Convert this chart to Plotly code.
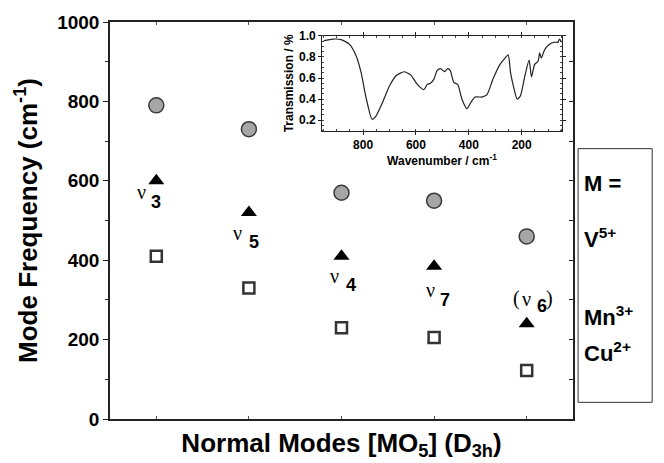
import plotly.graph_objects as go

# ---- main chart data ----
modes = [1, 2, 3, 4, 5]
mode_names = ["ν3", "ν5", "ν4", "ν7", "(ν6)"]
v5_freq = [790, 730, 570, 550, 460]      # grey circles
mn3_freq = [600, 520, 410, 385, 240]     # black triangles
cu2_freq = [410, 330, 230, 205, 122]     # open squares

# ---- inset spectrum data ----
wavenumber = [949, 914, 883, 851, 826, 807, 789, 766, 751, 726, 701, 676, 645, 620,
              595, 570, 557, 545, 532, 520, 507, 492, 480, 470, 457, 442, 426, 407,
              392, 376, 351, 332, 307, 282, 263, 251, 242, 230, 217, 205, 188, 172,
              163, 151, 138, 132, 126, 113, 95, 76, 63, 57, 49]
transmission = [0.955, 0.97, 0.965, 0.92, 0.81, 0.65, 0.42, 0.21, 0.24, 0.37, 0.52,
                0.62, 0.66, 0.63, 0.54, 0.49, 0.54, 0.55, 0.59, 0.67, 0.69, 0.66,
                0.69, 0.67, 0.56, 0.54, 0.40, 0.31, 0.37, 0.42, 0.42, 0.44, 0.60,
                0.73, 0.79, 0.82, 0.65, 0.51, 0.40, 0.43, 0.62, 0.77, 0.61, 0.73,
                0.76, 0.84, 0.79, 0.87, 0.92, 0.94, 0.94, 0.97, 0.94]

legend_lines = ["M =", "V<sup>5+</sup>", "Mn<sup>3+</sup>", "Cu<sup>2+</sup>"]

SANS = "Liberation Sans"
fig = go.Figure()

fig.add_trace(go.Scatter(x=modes, y=v5_freq, mode="markers", showlegend=False,
                         marker=dict(symbol="circle", size=15, color="#a6a6a6",
                                     line=dict(color="#3a3a3a", width=1.5))))
fig.add_trace(go.Scatter(x=modes, y=mn3_freq, mode="markers", showlegend=False,
                         marker=dict(symbol="triangle-up", size=14, color="black",
                                     line=dict(width=0))))
fig.add_trace(go.Scatter(x=modes, y=cu2_freq, mode="markers", showlegend=False,
                         marker=dict(symbol="square", size=11, color="white",
                                     line=dict(color="#333333", width=2.5))))
# invisible trace for right-side tick axis
fig.add_trace(go.Scatter(x=[modes[0]], y=[v5_freq[0]], yaxis="y2", mode="markers",
                         marker=dict(opacity=0), showlegend=False, hoverinfo="skip"))
# inset spectrum
fig.add_trace(go.Scatter(x=wavenumber, y=transmission, xaxis="x3", yaxis="y3",
                         mode="lines", showlegend=False,
                         line=dict(color="#222222", width=1.2, shape="spline", smoothing=0.6)))

fig.update_layout(
    width=664, height=463,
    margin=dict(l=110, r=91, t=18, b=44),
    paper_bgcolor="white", plot_bgcolor="white",
    font=dict(family=SANS, color="black"),
    xaxis=dict(range=[0.5, 5.5], tickvals=modes, showticklabels=False,
               ticks="inside", ticklen=3, tickcolor="#555", showgrid=False, zeroline=False,
               showline=True, linecolor="#222", linewidth=1.5, mirror="ticks",
               title=dict(text="<b>Normal Modes [MO<sub>5</sub>] (D<sub>3h</sub>)</b>",
                          font=dict(size=26, family=SANS), standoff=14)),
    yaxis=dict(range=[0, 1000], dtick=200, ticks="outside", ticklen=5, tickwidth=1,
               tickcolor="#222", showgrid=False, zeroline=False,
               showline=True, linecolor="#222", linewidth=1.5, mirror=True,
               tickfont=dict(size=19, family=SANS, weight="bold"),
               minor=dict(dtick=100, ticks="outside", ticklen=3, tickcolor="#222"),
               title=dict(text="<b>Mode Frequency (cm<sup>-1</sup>)</b>",
                          font=dict(size=26, family=SANS), standoff=12)),
    yaxis2=dict(range=[0, 1000], overlaying="y", side="right", dtick=100,
                ticks="inside", ticklen=4, tickcolor="#222", showticklabels=False,
                showgrid=False, zeroline=False, showline=False),
    xaxis3=dict(domain=[0.458, 0.976], anchor="y3", range=[955, 48],
                tickvals=[800, 600, 400, 200], ticks="outside", ticklen=3,
                tickcolor="#222", showgrid=False, zeroline=False,
                showline=True, linecolor="#222", linewidth=1, mirror="allticks",
                minor=dict(dtick=50, ticks="inside", ticklen=2, tickcolor="#444"),
                tickfont=dict(size=12, family=SANS, weight="bold"),
                title=dict(text="<b>Wavenumber / cm<sup>-1</sup></b>",
                           font=dict(size=12, family=SANS), standoff=2)),
    yaxis3=dict(domain=[0.726, 0.965], anchor="x3", range=[0.1, 1.0],
                tickvals=[0.2, 0.4, 0.6, 0.8, 1.0], ticktext=["0.2", "0.4", "0.6", "0.8", "1.0"],
                ticks="outside", ticklen=3, tickcolor="#222",
                showgrid=False, zeroline=False, showline=True, linecolor="#222",
                linewidth=1, mirror="allticks",
                minor=dict(dtick=0.05, ticks="inside", ticklen=2, tickcolor="#444"),
                tickfont=dict(size=12, family=SANS, weight="bold"),
                title=dict(text="<b>Transmission / %</b>",
                           font=dict(size=12, family=SANS), standoff=2)),
)

fig.add_shape(type="rect", xref="paper", yref="paper", x0=1.011, x1=1.171, y0=0.042, y1=0.681,
              line=dict(color="#333", width=1), fillcolor="rgba(0,0,0,0)")

legend_y = [0.592, 0.455, 0.26, 0.168]
for txt, yy in zip(legend_lines, legend_y):
    fig.add_annotation(xref="paper", yref="paper", x=1.019, y=yy, text="<b>" + txt + "</b>",
                       showarrow=False, xanchor="left", yanchor="middle",
                       font=dict(size=22, family=SANS, color="black"))

# mode labels: (nu position, digit position) offsets relative to point in data units
nu_dx = [-0.16, -0.12, -0.08, -0.04, 0.0]
nu_y = [572, 468, 360, 324, 302]
dig_dx = [0.0, 0.06, 0.10, 0.12, 0.16]
dig_y = [546, 446, 337, 299, 284]
digits = ["3", "5", "4", "7", "6"]
for i, m in enumerate(modes):
    fig.add_annotation(x=m + nu_dx[i], y=nu_y[i], text="ν", showarrow=False,
                       font=dict(size=20, family="Liberation Serif", color="black"))
    fig.add_annotation(x=m + dig_dx[i], y=dig_y[i], text="<b>" + digits[i] + "</b>",
                       showarrow=False, font=dict(size=18, family=SANS, color="black"))
    if mode_names[i].startswith("("):
        fig.add_annotation(x=m - 0.115, y=nu_y[i] + 2, text="(", showarrow=False,
                           font=dict(size=20, family="Liberation Serif", color="black"))
        fig.add_annotation(x=m + 0.25, y=nu_y[i] + 2, text=")", showarrow=False,
                           font=dict(size=20, family="Liberation Serif", color="black"))

fig.write_html("out.html")
